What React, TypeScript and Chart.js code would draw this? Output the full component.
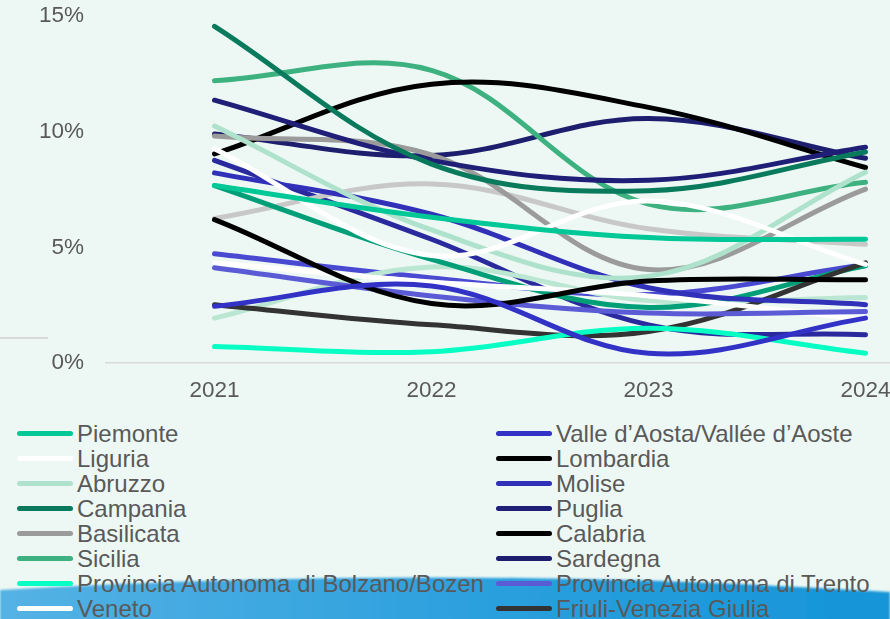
import React, { useEffect, useRef } from 'react';
import { Chart, registerables } from 'chart.js';

Chart.register(...registerables);

const years = ['2021', '2022', '2023', '2024'];
const yTickValues = [0, 5, 10, 15];

const piemonte = [7.67, 6.3, 5.42, 5.35];
const valleAosta = [2.45, 3.33, 0.42, 1.94];
const liguria = [9.26, 4.65, 7.0, 4.26];
const lombardia = [6.2, 2.57, 3.54, 3.6];
const abruzzo = [10.24, 5.75, 3.75, 8.25];
const molise = [8.22, 6.43, 3.25, 2.52];
const campania = [14.55, 8.6, 7.45, 9.12];
const puglia = [11.36, 8.76, 7.9, 9.33];
const basilicata = [9.81, 9.0, 4.04, 7.52];
const calabria = [9.04, 12.05, 11.05, 8.45];
const sicilia = [12.2, 12.65, 6.87, 7.81];
const sardegna = [9.9, 8.97, 10.57, 8.85];
const bolzano = [0.71, 0.49, 1.5, 0.42];
const trento = [4.12, 2.9, 2.16, 2.23];
const veneto = [4.33, 3.5, 2.9, 1.87];
const friuli = [2.52, 1.65, 1.36, 4.33];
const emiliaRomagna = [7.67, 4.48, 2.4, 4.2];
const toscana = [6.25, 7.74, 5.8, 5.13];
const umbria = [1.94, 4.15, 2.7, 2.83];
const marche = [4.72, 3.68, 2.96, 4.26];
const lazio = [8.76, 5.35, 1.65, 1.22];

const seriesNames = [
  'Piemonte', 'Valle d\u2019Aosta/Vall\u00e9e d\u2019Aoste', 'Liguria', 'Lombardia',
  'Abruzzo', 'Molise', 'Campania', 'Puglia', 'Basilicata', 'Calabria',
  'Sicilia', 'Sardegna', 'Provincia Autonoma di Bolzano/Bozen', 'Provincia Autonoma di Trento',
  'Veneto', 'Friuli-Venezia Giulia', 'Emilia-Romagna', 'Toscana', 'Umbria', 'Marche', 'Lazio',
];
const seriesValues = [
  piemonte, valleAosta, liguria, lombardia, abruzzo, molise, campania, puglia,
  basilicata, calabria, sicilia, sardegna, bolzano, trento, veneto, friuli,
  emiliaRomagna, toscana, umbria, marche, lazio,
];
const seriesColors = [
  '#00C897', '#3232C6', '#FFFFFF', '#000000', '#AEE2CC', '#3030B8', '#0A7A5C', '#1F1F78',
  '#9B9B9B', '#000000', '#3DB180', '#1E1E6E', '#08FFC4', '#5B5BD6', '#FFFFFF', '#333333',
  '#009F78', '#C8C8C8', '#BAE6D2', '#4949D2', '#2A2A9E',
];

const FONT = '"Liberation Sans", Arial, sans-serif';
const TEXT = '#595959';
const BG = '#EDF8F4';
const CANVAS_W = 974;
const CANVAS_H = 410;
const AXIS_Y = 363;

export default function App() {
  const ref = useRef<HTMLCanvasElement>(null);

  useEffect(() => {
    const chart = new Chart(ref.current!, {
      type: 'line',
      data: {
        labels: years,
        datasets: seriesValues.map((vals, i) => ({
          label: seriesNames[i],
          data: vals,
          borderColor: seriesColors[i],
          backgroundColor: seriesColors[i],
        })),
      },
      options: {
        animation: false,
        responsive: false,
        maintainAspectRatio: false,
        layout: { padding: { top: 16, left: 0, right: 0, bottom: 0 } },
        plugins: { legend: { display: false }, tooltip: { enabled: false } },
        elements: {
          point: { radius: 0, hoverRadius: 0 },
          line: { tension: 0.36, borderWidth: 5, borderCapStyle: 'round', borderJoinStyle: 'round' },
        },
        scales: {
          x: {
            offset: true,
            grid: { display: false, drawTicks: false },
            border: { display: true, color: '#D9D9D9', width: 1.5 },
            ticks: { color: TEXT, font: { family: FONT, size: 22.5 }, padding: 14, maxRotation: 0 },
            afterFit: (s: any) => { s.height = CANVAS_H - AXIS_Y; },
          },
          y: {
            min: 0,
            max: 15,
            afterBuildTicks: (s: any) => { s.ticks = yTickValues.map((v) => ({ value: v })); },
            grid: { display: false, drawTicks: false },
            border: { display: false },
            ticks: { color: TEXT, font: { family: FONT, size: 22.5 }, padding: 22, callback: (v: any) => v + '%' },
            afterFit: (s: any) => { s.width = 106; s.paddingTop = 0; s.paddingBottom = 0; },
          },
        },
      } as any,
    });
    return () => chart.destroy();
  }, []);

  const legendItems = seriesNames.map((name, i) => {
    const col = i % 2;
    const row = Math.floor(i / 2);
    const cy = 433.3 + row * 25;
    const mx = col === 0 ? 17 : 496;
    return (
      <div key={name} style={{ position: 'absolute', left: mx, top: cy - 12.5, height: 25, display: 'flex', alignItems: 'center', whiteSpace: 'nowrap', zIndex: 2 }}>
        <div style={{ width: 56, height: 5, borderRadius: 3, background: seriesColors[i] }} />
        <span style={{ marginLeft: 4, fontFamily: FONT, fontSize: 24, color: TEXT, lineHeight: '25px' }}>{name}</span>
      </div>
    );
  });

  return (
    <div style={{ position: 'fixed', left: 0, top: 0, width: 890, height: 619, overflow: 'hidden', background: BG }}>
      <canvas ref={ref} width={CANVAS_W} height={CANVAS_H} style={{ position: 'absolute', left: 0, top: 0, width: CANVAS_W, height: CANVAS_H }} />
      <div style={{ position: 'absolute', left: 0, top: 337, width: 48, height: 1.5, background: '#D9D9D9' }} />
      <svg width={890} height={59} style={{ position: 'absolute', left: 0, top: 560, zIndex: 1 }}>
        <defs>
          <linearGradient id="band" x1="0" y1="0" x2="1" y2="0">
            <stop offset="0" stopColor="#55B2E4" />
            <stop offset="0.5" stopColor="#2EA1DE" />
            <stop offset="1" stopColor="#1595D8" />
          </linearGradient>
          <filter id="soft" x="-5%" y="-20%" width="110%" height="140%">
            <feGaussianBlur stdDeviation="1.2" />
          </filter>
        </defs>
        <path d="M0,30 Q445,4 890,32 L890,70 L0,70 Z" fill="url(#band)" filter="url(#soft)" />
      </svg>
      {legendItems}
    </div>
  );
}
